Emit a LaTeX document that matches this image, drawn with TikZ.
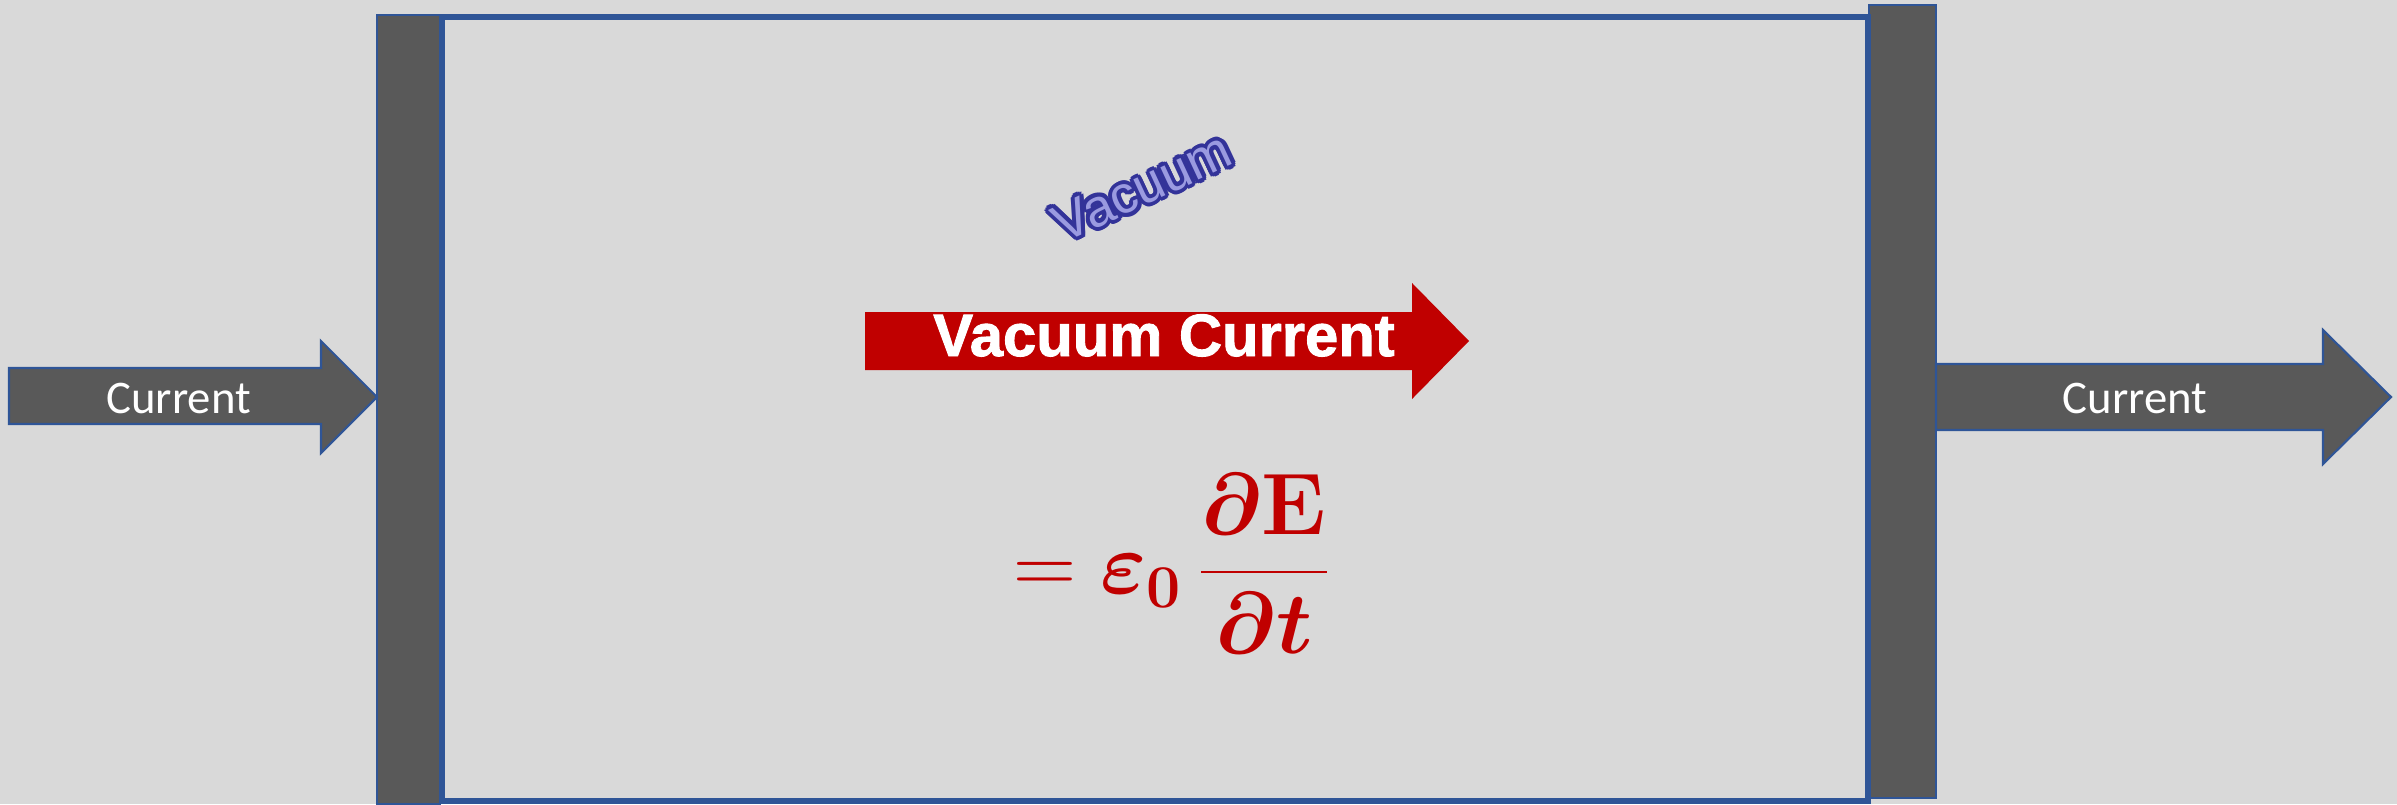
\documentclass[tikz,border=0pt]{standalone}
\usepackage[no-math]{fontspec}
\usepackage{bm}
\setmainfont{Carlito}
\newfontfamily\arialfont[BoldFeatures={FakeBold=1.5}]{Liberation Sans}

\definecolor{bgray}{HTML}{D9D9D9}
\definecolor{plategray}{HTML}{595959}
\definecolor{edgeblue}{HTML}{2F5597}
\definecolor{darkred}{HTML}{C00000}
\definecolor{vacline}{HTML}{333399}
\definecolor{vacfill}{HTML}{9A9AE0}

\tikzset{
  plate/.style={fill=plategray, draw=edgeblue, line width=0.5pt},
  grayarrow/.style={fill=plategray, draw=edgeblue, line width=0.6pt},
  curlabel/.style={text=white, inner sep=0pt, font=\fontsize{13.3}{16}\selectfont},
  vacword/.style={rotate=25, inner sep=0pt, font=\arialfont\fontsize{15}{18}\selectfont},
}

% displacement current term
\newsavebox{\dispbox}

\begin{document}
\sbox{\dispbox}{\fontsize{25}{30}\selectfont\color{darkred}%
  $=\bm{\varepsilon}_{\mathbf{0}}\,{\displaystyle\frac{\bm{\partial}\mathbf{E}}{\bm{\partial t}}}$}%
\begin{tikzpicture}

  % background
  \fill[bgray] (0,0) rectangle (23.97,8.04);
  \useasboundingbox (0,0) rectangle (23.97,8.04);

  %===== Plates and gap =====%
  \draw[plate] (3.77,0) rectangle (4.40,7.89); % left plate
  \draw[plate] (18.69,0.06) rectangle (19.36,7.99); % right plate

  % Vacuum gap between the plates
  \draw[edgeblue, line width=1.6pt] (4.42,0.03) rectangle (18.68,7.87);

  %===== Conduction current arrows =====%
  \draw[grayarrow]
    (0.09,3.80) -- (3.21,3.80) -- (3.21,3.51) -- (3.77,4.07)
    -- (3.21,4.63) -- (3.21,4.36) -- (0.09,4.36) -- cycle;
  \node[curlabel, anchor=base] (incurrent) at (1.785,3.91) {Current};

  \draw[grayarrow]
    (19.36,3.74) -- (23.23,3.74) -- (23.23,3.40) -- (23.91,4.07)
    -- (23.23,4.74) -- (23.23,4.40) -- (19.36,4.40) -- cycle;
  \node[curlabel, anchor=base] (outcurrent) at (21.35,3.91) {Current};

  %===== Vacuum current =====%
  \fill[darkred]
    (8.65,4.34) -- (14.12,4.34) -- (14.12,4.05) -- (14.69,4.63)
    -- (14.12,5.21) -- (14.12,4.92) -- (8.65,4.92) -- cycle;
  \node[anchor=base, text=white, inner sep=0pt,
    font=\arialfont\bfseries\fontsize{17}{20}\selectfont]
    (vaccurrent) at (11.64,4.48) {Vacuum Current};

  % Word in the gap: outline copies, then the light letters
  \foreach \a in {0,30,...,330}
    \node[vacword, text=vacline] at ([shift={(\a:0.04)}] 11.42,6.17) {Vacuum};
  \node[vacword, text=vacfill] (vacuum) at (11.42,6.17) {Vacuum};

  % Displacement current
  \node[inner sep=0pt] (dispcurrent) at (11.72,2.40) {\usebox{\dispbox}};

\end{tikzpicture}
\end{document}
